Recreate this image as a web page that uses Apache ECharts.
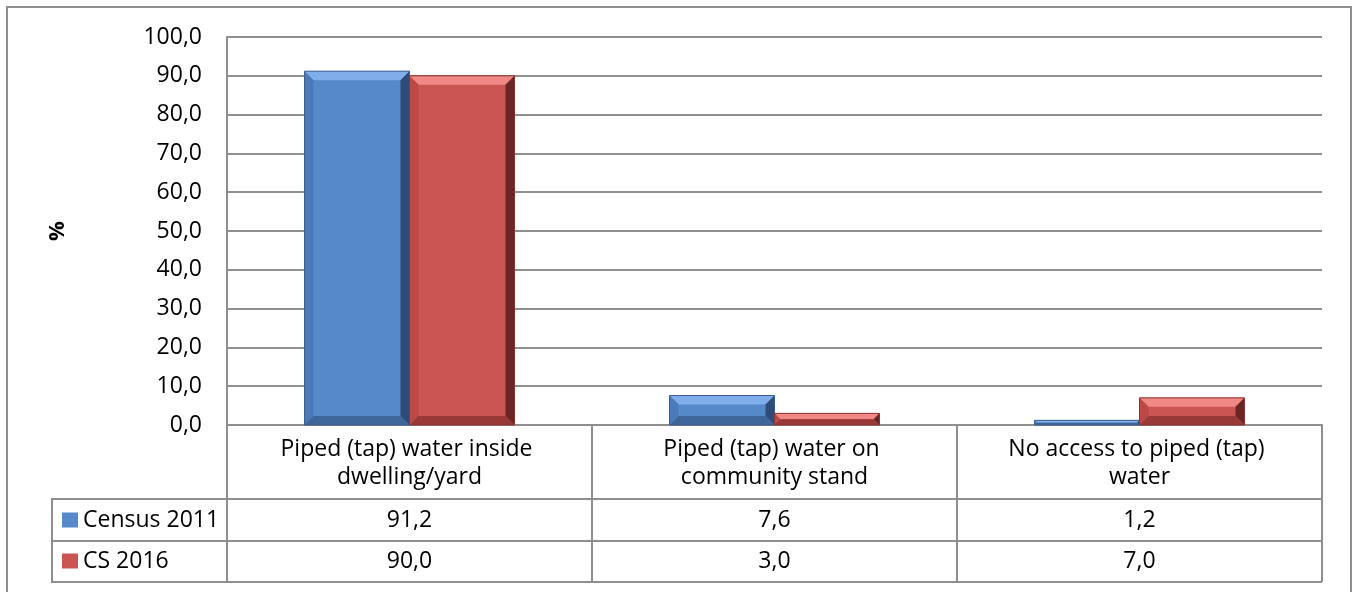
<!DOCTYPE html>
<html>
<head>
<meta charset="utf-8">
<script src="https://cdn.jsdelivr.net/npm/echarts@6/dist/echarts.min.js"></script>
<style>
  html, body { margin: 0; padding: 0; background: #fff; }
  #chart { width: 1357px; height: 592px; }
</style>
</head>
<body>
<div id="chart"></div>
<script>
// ---- data ----
const categories = [
  'Piped (tap) water inside dwelling/yard',
  'Piped (tap) water on community stand',
  'No access to piped (tap) water'
];
const seriesNames = ['Census 2011', 'CS 2016'];
const census2011 = [91.2, 7.6, 1.2];
const cs2016 = [90.0, 3.0, 7.0];
const yMin = 0, yMax = 100, yStep = 10;
const yName = '%';

// ---- styling ----
const FONT = '"Open Sans", "Noto Sans", sans-serif';
const LINE = '#8f8f8f';
const fmt = v => Number(v).toFixed(1).replace('.', ',');

const palettes = [
  { face: '#5689C9', top: '#80AEEA', left: '#4B7ABA', right: '#2E4C77', bottom: '#3E6699', edge: '#3A5F8F' },
  { face: '#CB5553', top: '#F08886', left: '#BC4947', right: '#6A2624', bottom: '#983937', edge: '#8A3533' }
];
const BAR_FRAC = 105 / 365;

function bevelRenderer(sIdx) {
  const p = palettes[sIdx];
  return function (params, api) {
    const cat = api.value(0), val = api.value(1);
    const base = api.coord([cat, 0]);
    const topPt = api.coord([cat, val]);
    const band = api.size([1, 0])[0];
    const bw = band * BAR_FRAC;
    const x0 = base[0] + (sIdx === 0 ? -bw : 0);
    const x1 = x0 + bw;
    const y0 = topPt[1], y1 = base[1];
    const h = y1 - y0;
    const b = Math.max(0, Math.min(9, h / 2, bw / 2));
    return {
      type: 'group',
      children: [
        { type: 'rect', shape: { x: x0, y: y0, width: bw, height: h }, style: { fill: p.face } },
        { type: 'polygon', shape: { points: [[x0, y0], [x1, y0], [x1 - b, y0 + b], [x0 + b, y0 + b]] }, style: { fill: p.top } },
        { type: 'polygon', shape: { points: [[x0, y0], [x0 + b, y0 + b], [x0 + b, y1 - b], [x0, y1]] }, style: { fill: p.left } },
        { type: 'polygon', shape: { points: [[x1, y0], [x1, y1], [x1 - b, y1 - b], [x1 - b, y0 + b]] }, style: { fill: p.right } },
        { type: 'polygon', shape: { points: [[x0, y1], [x1, y1], [x1 - b, y1 - b], [x0 + b, y1 - b]] }, style: { fill: p.bottom } },
        { type: 'rect', shape: { x: x0, y: y0, width: bw, height: h }, style: { fill: 'none', stroke: p.edge, lineWidth: 1 } }
      ]
    };
  };
}

const valueRows = [census2011, cs2016];

const chart = echarts.init(document.getElementById('chart'), null, { renderer: 'canvas' });

const option = {
  animation: false,
  backgroundColor: '#ffffff',
  textStyle: { fontFamily: FONT },
  grid: { left: 227, right: 35, top: 37, bottom: 167, containLabel: false },
  legend: {
    orient: 'vertical',
    left: 62,
    top: 507,
    padding: 0,
    itemGap: 15,
    itemWidth: 16,
    itemHeight: 15,
    icon: 'rect',
    selectedMode: false,
    data: seriesNames,
    textStyle: { fontFamily: FONT, fontSize: 23, color: '#000', lineHeight: 26 }
  },
  yAxis: {
    type: 'value',
    min: yMin, max: yMax, interval: yStep,
    name: yName,
    nameLocation: 'middle',
    nameRotate: 90,
    nameGap: 158,
    nameTextStyle: { fontFamily: FONT, fontSize: 22, fontWeight: 'bold', color: '#000' },
    axisLine: { show: true, lineStyle: { color: LINE, width: 2 } },
    axisTick: { show: false },
    axisLabel: { formatter: v => fmt(v), fontFamily: FONT, fontSize: 23, color: '#000', margin: 25 },
    splitLine: { show: true, lineStyle: { color: LINE, width: 2 } }
  },
  xAxis: [
    {
      type: 'category',
      data: categories,
      position: 'bottom',
      axisLine: { show: true, lineStyle: { color: LINE, width: 2 } },
      axisTick: { show: true, alignWithLabel: false, inside: false, length: 157, lineStyle: { color: LINE, width: 2 } },
      axisLabel: {
        interval: 0, fontFamily: FONT, fontSize: 23, color: '#000', lineHeight: 28,
        margin: 10, width: 300, overflow: 'break', align: 'center'
      },
      splitLine: { show: false }
    },
    {
      type: 'category',
      data: categories,
      position: 'bottom',
      offset: 74,
      axisLine: { show: true, lineStyle: { color: LINE, width: 2 } },
      axisTick: { show: false },
      axisLabel: {
        interval: 0, fontFamily: FONT, fontSize: 23, color: '#000', lineHeight: 26, margin: 8,
        formatter: (v, i) => fmt(valueRows[0][i])
      }
    },
    {
      type: 'category',
      data: categories,
      position: 'bottom',
      offset: 116,
      axisLine: { show: true, lineStyle: { color: LINE, width: 2 } },
      axisTick: { show: false },
      axisLabel: {
        interval: 0, fontFamily: FONT, fontSize: 23, color: '#000', lineHeight: 26, margin: 7,
        formatter: (v, i) => fmt(valueRows[1][i])
      }
    }
  ],
  series: [
    {
      name: seriesNames[0],
      type: 'custom',
      xAxisIndex: 0, yAxisIndex: 0,
      itemStyle: { color: palettes[0].face },
      renderItem: bevelRenderer(0),
      encode: { x: 0, y: 1 },
      data: census2011.map((v, i) => [i, v])
    },
    {
      name: seriesNames[1],
      type: 'custom',
      xAxisIndex: 0, yAxisIndex: 0,
      itemStyle: { color: palettes[1].face },
      renderItem: bevelRenderer(1),
      encode: { x: 0, y: 1 },
      data: cs2016.map((v, i) => [i, v])
    }
  ],
  graphic: [
    { type: 'rect', shape: { x: 7, y: 7, width: 1344, height: 600 }, style: { fill: 'none', stroke: LINE, lineWidth: 2 }, silent: true },
    { type: 'line', shape: { x1: 52, y1: 499, x2: 227, y2: 499 }, style: { stroke: LINE, lineWidth: 2 }, silent: true },
    { type: 'line', shape: { x1: 52, y1: 541, x2: 227, y2: 541 }, style: { stroke: LINE, lineWidth: 2 }, silent: true },
    { type: 'line', shape: { x1: 52, y1: 582, x2: 1322, y2: 582 }, style: { stroke: LINE, lineWidth: 2 }, silent: true },
    { type: 'line', shape: { x1: 52, y1: 498, x2: 52, y2: 583 }, style: { stroke: LINE, lineWidth: 2 }, silent: true }
  ]
};

chart.setOption(option);
</script>
</body>
</html>
